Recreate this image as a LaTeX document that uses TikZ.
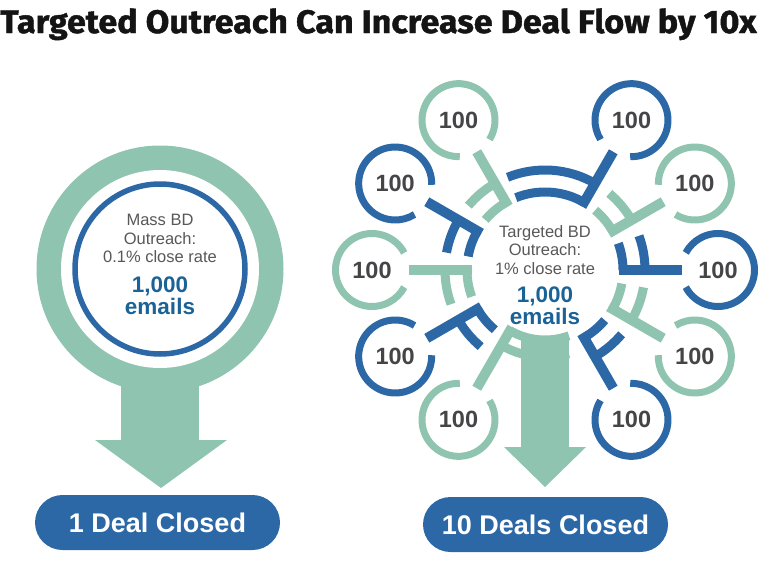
\documentclass[tikz,border=0pt]{standalone}
\usepackage{fontspec}
\setmainfont{Liberation Sans}
\newfontfamily\titlefont{Fira Sans}[BoldFeatures={FakeBold=1.3}]
\usetikzlibrary{calc}
\definecolor{mint}{HTML}{8FC4B0}
\definecolor{dblue}{HTML}{2D68A6}
\definecolor{tblue}{HTML}{1B6397}
\definecolor{tgray}{HTML}{58585A}
\definecolor{ngray}{HTML}{454547}
\tikzset{
  satnum/.style={text=ngray, font=\fontsize{23.5}{23.5}\selectfont\bfseries, inner sep=0pt},
  pill/.style={fill=dblue, text=white, rounded corners=27.5pt, minimum height=55pt, font=\fontsize{27}{27}\selectfont\bfseries, inner sep=0pt},
  smalltxt/.style={text=tgray, align=center, font=\fontsize{16.5}{18.5}\selectfont, inner sep=0pt},
  bigtxt/.style={text=tblue, align=center, font=\fontsize{22.5}{22}\selectfont\bfseries, inner sep=0pt},
  ringline/.style={line width=7pt},
  stemline/.style={line width=10pt},
  armline/.style={line width=9pt},
}
\begin{document}
\begin{tikzpicture}[x=1pt,y=-1pt]
\useasboundingbox (0,0) rectangle (760,570);
% title
\node[anchor=base west, inner sep=0pt, text=black!92, font=\titlefont\bfseries\fontsize{32.5}{32.5}\selectfont] (title) at (0,33) {\scalebox{1.05}[1]{Targeted Outreach Can Increase Deal Flow by 10x}};

% ---------- left: mass outreach ----------
\coordinate (L) at (160,269);
\fill[mint] (L) circle[radius=123.5pt];
\fill[mint] (121,330) rectangle (199,441);
\fill[mint] (95,440) -- (227,440) -- (161,488) -- cycle;
\fill[white] (L) circle[radius=99pt];
\draw[dblue, line width=5.5pt] (L) circle[radius=85pt];
\node[smalltxt] (masstxt) at (160,238.5) {Mass BD\\Outreach:\\0.1\% close rate};
\node[bigtxt] (massnum) at (160,296) {1,000\\emails};
\node[pill, minimum width=245pt] (deal1) at (157.5,522.5) {1 Deal Closed};

% ---------- right: targeted outreach ----------
\begin{scope}[shift={(545,270)}, y=1pt]
  \foreach \a/\c/\s/\n in {0/dblue/20/a, 30/mint/20/b, 60/dblue/52/c, 120/mint/20/d, 150/dblue/20/e, 180/mint/20/f, 210/dblue/20/g, 300/dblue/20/h, 330/mint/20/i} {
    \node[satnum] (sat\n) at (\a:173) {100};
    \draw[\c, ringline] (sat\n.center) ++(\a+208:36.5) arc[start angle=\a+208, end angle=\a+512, radius=36.5];
    \draw[\c, stemline] (\a:136.5) -- (\a:73.5);
    \draw[\c, armline] (\a:78) arc[start angle=\a, end angle=\a+\s, radius=78];
    \draw[\c, armline] (\a:100) arc[start angle=\a, end angle=\a+\s, radius=100];
  }
  % bottom-left satellite and the output arrow
  \node[satnum] (satj) at (240:173) {100};
  \draw[mint, ringline] (satj.center) ++(448:36.5) arc[start angle=448, end angle=752, radius=36.5];
  \draw[mint, stemline] (240:136.5) -- (240:66);
  \draw[mint, armline] (240:70) arc[start angle=240, end angle=290, radius=70];
  \draw[mint, armline] (240:87) arc[start angle=240, end angle=286, radius=87];
  \fill[mint] (-24,-66) rectangle (24,-178);
  \fill[mint] (-41,-177) -- (41,-177) -- (0,-217) -- cycle;
  \node[smalltxt] (hubtxt) at (0,20) {Targeted BD\\Outreach:\\1\% close rate};
  \node[bigtxt] (hubnum) at (0,-36) {1,000\\emails};
\end{scope}
\node[pill, minimum width=245pt] (deal10) at (545.5,524.5) {10 Deals Closed};
\end{tikzpicture}
\end{document}
